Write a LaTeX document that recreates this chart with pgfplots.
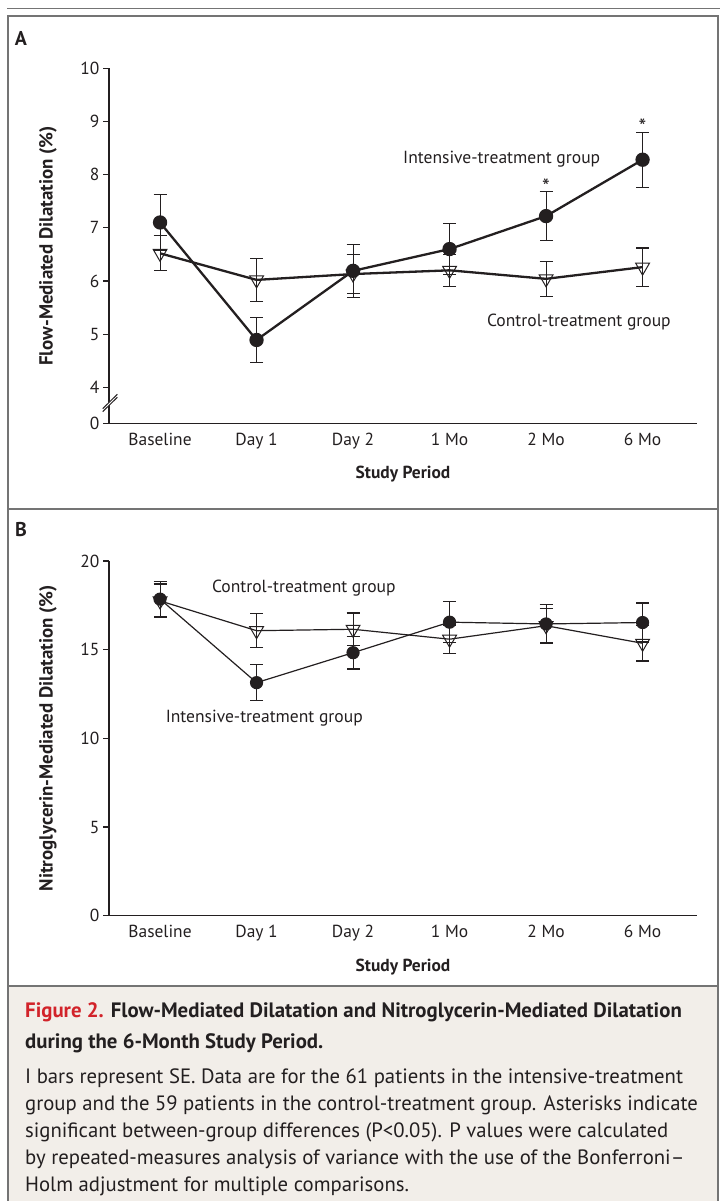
\documentclass[border=0pt]{standalone}
\usepackage{pgfplots}
\pgfplotsset{compat=1.18}
\usepackage{fontspec}
\setmainfont{PT Sans}
\definecolor{framegray}{HTML}{747474}
\definecolor{capbg}{HTML}{F2EEE9}
\definecolor{nejmred}{HTML}{D2232A}
\definecolor{ink}{HTML}{231F20}

\pgfplotstableread{
x y e
0 7.10 0.53
1 4.89 0.43
2 6.19 0.50
3 6.60 0.48
4 7.22 0.46
5 8.28 0.52
}\fmdint
\pgfplotstableread{
x y e
0 6.52 0.33
1 6.02 0.40
2 6.13 0.37
3 6.20 0.30
4 6.04 0.33
5 6.26 0.36
}\fmdctl
\pgfplotstableread{
x y e
0 17.85 1.00
1 13.14 1.00
2 14.83 0.92
3 16.55 1.15
4 16.45 1.10
5 16.53 1.10
}\nmdint
\pgfplotstableread{
x y e
0 17.75 0.95
1 16.07 0.95
2 16.15 0.92
3 15.59 0.80
4 16.35 0.95
5 15.36 1.00
}\nmdctl

\tikzset{grp/.style={font=\fontsize{17.6}{20}\selectfont, text=ink}}
\pgfplotsset{
  panel/.style={
    scale only axis, width=588bp,
    xmin=-0.529, xmax=5.564,
    axis lines=left, axis line style={-, line width=1.1bp, ink},
    xtick={0,...,5},
    xticklabels={Baseline,Day 1,Day 2,1 Mo,2 Mo,6 Mo},
    xtick style={draw=none},
    ytick style={line width=1.1bp, ink},
    tick align=outside, major tick length=6bp,
    /pgf/number format/assume math mode=true,
    ticklabel style={font=\fontsize{17.5}{20}\selectfont, text=ink},
    xlabel={\textbf{Study Period}},
    every axis x label/.style={at={(axis description cs:0.5,0)}, anchor=center, yshift=-51bp, font=\fontsize{17.5}{20}\selectfont, text=ink},
    every axis y label/.style={at={(axis description cs:-0.1037,0.5)}, anchor=center, rotate=90, font=\fontsize{19}{20}\selectfont\bfseries, text=ink},
    clip=false,
  },
  ebar/.style={error bars/.cd, y dir=both, y explicit,
    error bar style={line width=1.1bp, ink, solid},
    error mark options={rotate=90, line width=1.1bp, ink, mark size=6.5bp}},
  intmark/.style={mark=*, mark size=6bp, mark options={fill=ink, draw=ink, solid}},
  ctlmark/.style={mark=triangle, mark size=8bp, mark options={fill=white, draw=ink, line width=1bp, rotate=180, solid}},
}

\begin{document}
\begin{tikzpicture}[x=1bp,y=1bp]
\useasboundingbox (0,0) rectangle (720,1201);
% frame and caption background
\fill[capbg] (8,0) rectangle (718,215);
\draw[framegray, line width=1.4bp] (7,1192.3) -- (720,1192.3);
\draw[framegray, line width=2bp] (8,0) -- (8,1185) -- (718,1185) -- (718,0);
\draw[framegray, line width=2bp] (8,692) -- (718,692);
\draw[framegray, line width=2bp] (8,215) -- (718,215);

\node[font=\fontsize{20}{20}\selectfont\bfseries, text=ink] at (21,1163) {A};
\node[font=\fontsize{20}{20}\selectfont\bfseries, text=ink] at (21,671) {B};

% Panel A
\begin{axis}[panel, at={(109bp,777.7bp)}, anchor=south west,
  height=355bp, ymin=3.3233, ymax=10,
  ytick={3.3233,4,5,6,7,8,9,10},
  yticklabels={0,4,5,6,7,8,9,10},
  ylabel={Flow-Mediated Dilatation (\%)}]
\addplot[ink, line width=2.3bp, intmark, ebar] table[x=x, y=y, y error=e] {\fmdint};
\addplot[ink, line width=2.3bp, ctlmark, ebar] table[x=x, y=y, y error=e] {\fmdctl};
\node[grp] at (axis cs:3.54,8.29) {Intensive-treatment group};
\node[grp] at (axis cs:4.34,5.23) {Control-treatment group};
\node[font=\fontsize{22}{22}\selectfont, text=ink] at (axis cs:4,7.77) {*};
\node[font=\fontsize{22}{22}\selectfont, text=ink] at (axis cs:5,8.90) {*};
\end{axis}
% axis break
\fill[white] (102.7,789.3) -- (117.3,803.7) -- (117.3,806.7) -- (102.7,792.3) -- cycle;
\draw[ink, line width=1bp] (102.7,789.3) -- (117.3,803.7);
\draw[ink, line width=1bp] (102.7,792.3) -- (117.3,806.7);

% Panel B
\begin{axis}[panel, at={(109bp,285.3bp)}, anchor=south west,
  height=354.7bp, ymin=0, ymax=20,
  ytick={0,5,10,15,20},
  ylabel={Nitroglycerin-Mediated Dilatation (\%)}]
\addplot[ink, line width=1.2bp, intmark, ebar] table[x=x, y=y, y error=e] {\nmdint};
\addplot[ink, line width=1.2bp, ctlmark, ebar] table[x=x, y=y, y error=e] {\nmdctl};
\node[grp] at (axis cs:1.49,18.48) {Control-treatment group};
\node[grp] at (axis cs:1.08,11.14) {Intensive-treatment group};
\end{axis}

% caption
\begin{scope}[every node/.style={anchor=base west, inner sep=0pt, text=ink}]
\node[font=\fontsize{20.9}{22}\selectfont\bfseries] at (25,183) {\textcolor{nejmred}{Figure 2.} Flow-Mediated Dilatation and Nitroglycerin-Mediated Dilatation};
\node[font=\fontsize{20.9}{22}\selectfont\bfseries] at (25,152) {during the 6-Month Study Period.};
\node[font=\fontsize{20.8}{22}\selectfont] at (25,117) {I bars represent SE. Data are for the 61 patients in the intensive-treatment};
\node[font=\fontsize{20.8}{22}\selectfont] at (25,90) {group and the 59 patients in the control-treatment group. Asterisks indicate};
\node[font=\fontsize{20.8}{22}\selectfont] at (25,63) {significant between-group differences (P<0.05). P values were calculated};
\node[font=\fontsize{20.8}{22}\selectfont] at (25,36) {by repeated-measures analysis of variance with the use of the Bonferroni–};
\node[font=\fontsize{20.8}{22}\selectfont] at (25,9) {Holm adjustment for multiple comparisons.};
\end{scope}
\end{tikzpicture}
\end{document}
